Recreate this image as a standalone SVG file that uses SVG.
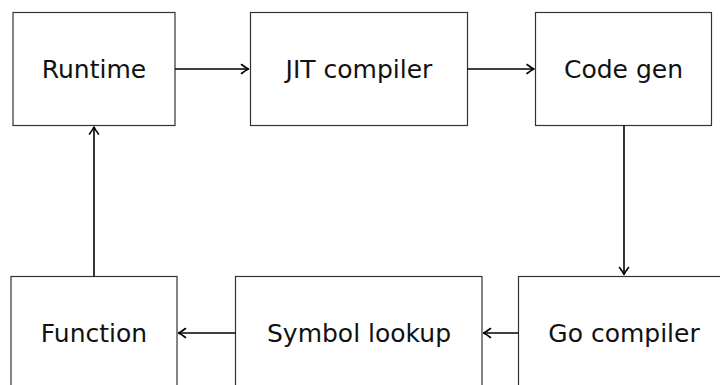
<svg xmlns="http://www.w3.org/2000/svg" width="720" height="385" viewBox="0 0 720 385">
<defs>
<style>
.box{fill:#fff;stroke:#333;stroke-width:1.2}
.lbl{font-family:"DejaVu Sans","Liberation Sans",sans-serif;font-size:25px;fill:#111;text-anchor:middle;dominant-baseline:central}
.edge{stroke:#000;stroke-width:1.6;fill:none;marker-end:url(#arr)}
</style>
<marker id="arr" markerUnits="userSpaceOnUse" viewBox="-8 -6 10 12" refX="1" refY="0" markerWidth="10" markerHeight="12" orient="auto">
<path d="M-6,-4.5 Q-1.5,-1 1,0 Q-1.5,1 -6,4.5" fill="none" stroke="#000" stroke-width="1.6" stroke-linecap="round" stroke-linejoin="round"/>
</marker>
</defs>
<rect width="720" height="385" fill="#fff"/>
<g id="runtime"><rect class="box" x="13" y="12.5" width="162" height="113"/><text class="lbl" x="94" y="69">Runtime</text></g>
<g id="jit"><rect class="box" x="250.5" y="12.5" width="217" height="113"/><text class="lbl" x="359" y="69">JIT compiler</text></g>
<g id="codegen"><rect class="box" x="535.5" y="12.5" width="176" height="113"/><text class="lbl" x="623.5" y="69">Code gen</text></g>
<g id="function"><rect class="box" x="11" y="276.5" width="166" height="115"/><text class="lbl" x="94" y="333">Function</text></g>
<g id="symbol"><rect class="box" x="235.5" y="276.5" width="246.5" height="115"/><text class="lbl" x="359" y="333">Symbol lookup</text></g>
<g id="gocompiler"><rect class="box" x="518.5" y="276.5" width="211" height="115"/><text class="lbl" x="624" y="333">Go compiler</text></g>
<g id="connectors">
<line class="edge" x1="175" y1="69" x2="248.5" y2="69"/>
<line class="edge" x1="467.5" y1="69" x2="534" y2="69"/>
<line class="edge" x1="624" y1="125.5" x2="624" y2="274.5"/>
<line class="edge" x1="518.5" y1="333" x2="483.5" y2="333"/>
<line class="edge" x1="235.5" y1="333" x2="178.5" y2="333"/>
<line class="edge" x1="94" y1="276.5" x2="94" y2="127"/>
</g>
</svg>
